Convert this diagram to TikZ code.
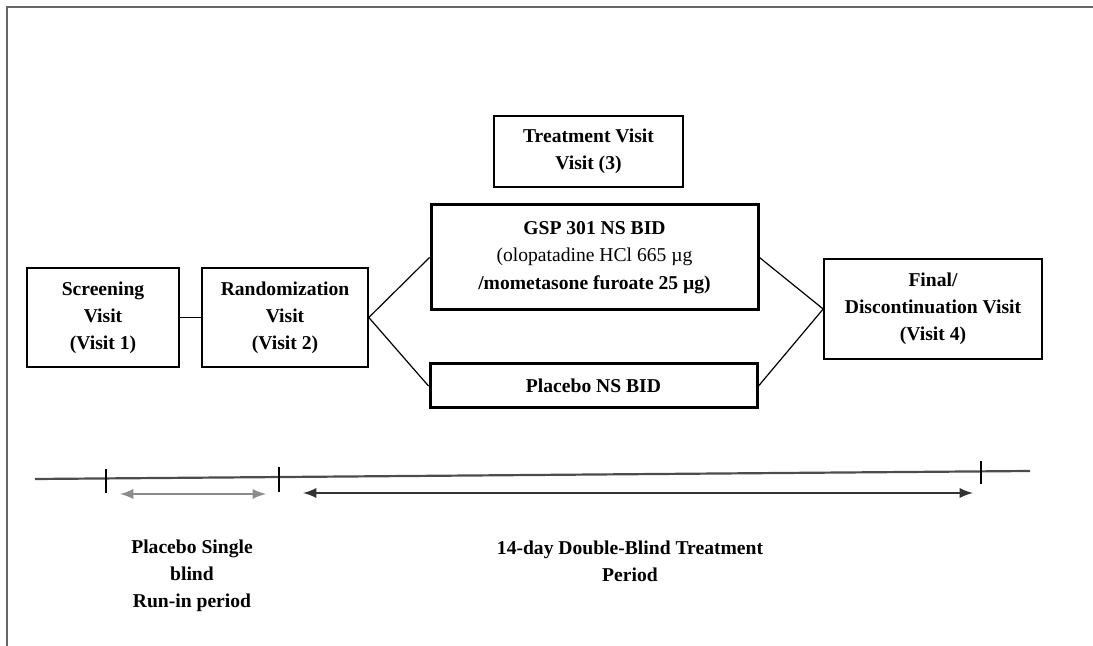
\documentclass[tikz,border=0pt]{standalone}
\usepackage{fontspec}
\setmainfont{Liberation Serif}
\usepackage{tikz}
\usetikzlibrary{arrows}
\def\boxRule{0.8pt}
\def\armRule{1.5pt}
\def\txtSize{\fontsize{9.8}{13.6}\selectfont\bfseries}
\tikzset{
    visit/.style={draw, line width=\boxRule, inner sep=0pt, align=center, font=\txtSize},
    arm/.style={visit, line width=\armRule},
    link/.style={line width=0.6pt},
    span/.style={latex-latex, line width=1.3pt},
    caption/.style={align=center, font=\txtSize}
}

\begin{document}
\begin{tikzpicture}[x=0.5pt, y=-0.5pt]
            \useasboundingbox (0,0) rectangle (1093,646);
            % Draw frame
            \draw[black!60, line width=1.3pt] (7,646) -- (7,7) -- (1093,7);

            % Draw visit boxes
            \node[visit, minimum width=76pt, minimum height=49.5pt] (screen) at (103,317.5) {Screening\\Visit\\(Visit 1)};
            \node[visit, minimum width=83pt, minimum height=49.5pt] (rand) at (285,317.5) {Randomization\\Visit\\(Visit 2)};
            \node[visit, minimum width=94.5pt, minimum height=35.5pt] (treat) at (588.5,151.5) {Treatment Visit\\Visit (3)};
            \node[visit, minimum width=109pt, minimum height=50pt] (final) at (933,309) {Final/\\Discontinuation Visit\\(Visit 4)};

            % Draw treatment arms
            \node[arm, minimum width=163.5pt, minimum height=52.5pt] (gsp) at (594.5,257.5) {GSP 301 NS BID\\{\mdseries (olopatadine HCl 665 µg}\\/mometasone furoate 25 µg)};
            \node[arm, minimum width=163.5pt, minimum height=22pt] (placebo) at (593.5,386) {Placebo NS BID};

            % Draw links
            \draw[link] (screen.east) -- (rand.west);
            \draw[link] (rand.east) -- (gsp.west);
            \draw[link] (rand.east) -- (placebo.west);
            \draw[link] (gsp.east) -- (final.west);
            \draw[link] (placebo.east) -- (final.west);

            % Draw time line
            \coordinate (lineStart) at (35,479);
            \coordinate (lineEnd) at (1030,471);
            \draw[line width=1.1pt, black!70] (lineStart) -- (lineEnd);
            \foreach \tx/\ta/\tb in {106/469/493, 279/467/492, 981/461/484} {
                \draw[line width=0.8pt] (\tx,\ta) -- (\tx,\tb);
            }

            % Draw periods
            \coordinate (runStart) at (120,494);
            \coordinate (runEnd) at (266,494);
            \coordinate (dbStart) at (303,493);
            \coordinate (dbEnd) at (973,493);
            \draw[span, black!45] (runStart) -- (runEnd);
            \draw[span, black!80] (dbStart) -- (dbEnd);

            \node[caption] (runLabel) at (192,576) {Placebo Single\\blind\\Run-in period};
            \node[caption] (dbLabel) at (630,561) {14-day Double-Blind Treatment\\Period};

        \end{tikzpicture}
\end{document}
